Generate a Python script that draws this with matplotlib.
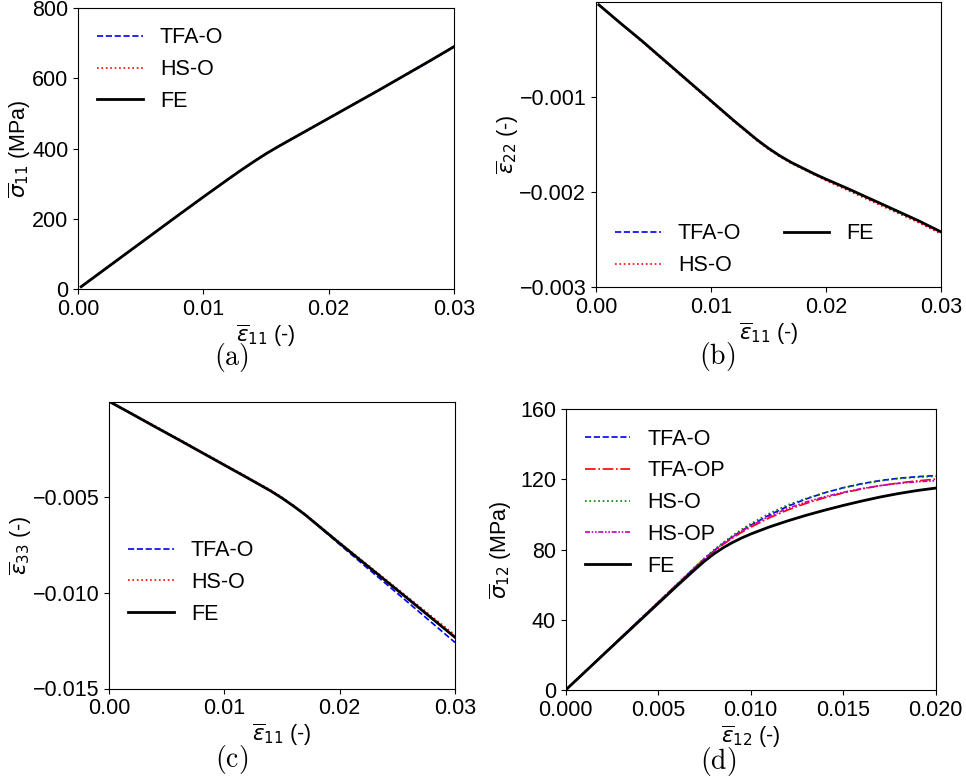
import numpy as np
import matplotlib
matplotlib.use("Agg")
import matplotlib.pyplot as plt
from matplotlib.ticker import FuncFormatter

plt.rcParams['font.family'] = ['Liberation Sans', 'DejaVu Sans']
plt.rcParams['font.size'] = 15.5
plt.rcParams['axes.labelsize'] = 15.5

# (a), (b), (c): uniaxial loading along 1
eps11 = [0.00025, 0.002, 0.004, 0.006, 0.008, 0.010, 0.012, 0.013, 0.014, 0.015, 0.016,
         0.017, 0.018, 0.019, 0.020, 0.022, 0.024, 0.026, 0.028, 0.030]

s11_fe = [6.5, 52.5, 105, 157.5, 210, 262, 313, 338, 362, 385, 406,
          426, 446, 466, 486, 526, 566, 607, 648, 690]
s11_tfa = [6.5, 52.5, 105, 157.5, 210, 262, 313, 338, 362, 385, 406,
           426, 446, 466, 486, 526, 566, 606, 647, 689]
s11_hs = [6.5, 52.5, 105, 157.5, 210, 262, 314, 339, 363, 386, 407,
          427, 447, 467, 487, 527, 567, 608, 649, 691]

e22_fe = [-0.00003, -0.00021, -0.00041, -0.00062, -0.00083, -0.00104, -0.00125, -0.00135,
          -0.00145, -0.00154, -0.00162, -0.00169, -0.00175, -0.00181, -0.001865,
          -0.00197, -0.00208, -0.00219, -0.00230, -0.00242]
e22_tfa = [-0.00003, -0.00021, -0.00041, -0.00062, -0.00083, -0.00104, -0.00125, -0.00135,
           -0.00145, -0.00154, -0.00162, -0.00169, -0.00175, -0.00181, -0.001865,
           -0.00197, -0.00208, -0.00219, -0.00230, -0.00242]
e22_hs = [-0.00003, -0.00021, -0.00042, -0.00063, -0.00084, -0.00105, -0.00126, -0.00136,
          -0.00146, -0.00155, -0.00163, -0.00170, -0.00176, -0.00182, -0.00188,
          -0.00199, -0.00210, -0.00221, -0.00232, -0.00244]

e33_fe = [-0.00005, -0.00063, -0.0013, -0.00196, -0.00263, -0.0033, -0.00397, -0.00431,
          -0.00465, -0.00503, -0.00545, -0.0059, -0.0064, -0.0069, -0.0074,
          -0.00838, -0.00936, -0.01034, -0.01133, -0.01232]
e33_tfa = [-0.00005, -0.00063, -0.0013, -0.00196, -0.00263, -0.0033, -0.00397, -0.00431,
           -0.00465, -0.00503, -0.00545, -0.0059, -0.00642, -0.00694, -0.00746,
           -0.00849, -0.00951, -0.01053, -0.01156, -0.01259]
e33_hs = [-0.00005, -0.0006, -0.00126, -0.00192, -0.00259, -0.00326, -0.00393, -0.00427,
          -0.00461, -0.00499, -0.00541, -0.00587, -0.00636, -0.00686, -0.00735,
          -0.00832, -0.00929, -0.01026, -0.01123, -0.0122]

# (d): shear loading
eps12 = [0, 0.002, 0.004, 0.006, 0.007, 0.0075, 0.008, 0.0085, 0.009, 0.0095, 0.010,
         0.011, 0.012, 0.013, 0.014, 0.015, 0.016, 0.017, 0.018, 0.019, 0.020]
s12_fe = [0, 19.8, 39.5, 59.2, 68.8, 73.4, 77.5, 81.0, 84.0, 86.6, 88.9,
          92.9, 96.4, 99.6, 102.5, 105.2, 107.7, 110.0, 112.0, 113.7, 115.1]
s12_tfa_o = [0, 20.0, 40.0, 60.0, 70.0, 74.8, 79.3, 83.4, 87.2, 90.7, 93.9,
             99.7, 104.7, 108.9, 112.4, 115.3, 117.6, 119.4, 120.7, 121.6, 122.2]
s12_tfa_op = [0, 20.0, 40.0, 60.0, 69.8, 74.5, 78.9, 82.9, 86.5, 89.8, 92.8,
              98.1, 102.6, 106.4, 109.6, 112.3, 114.6, 116.5, 118.0, 119.2, 120.2]
s12_hs_o = [0, 20.0, 40.1, 60.2, 70.3, 75.2, 79.8, 84.0, 87.9, 91.5, 94.8,
            100.6, 105.5, 109.2, 112.5, 115.2, 117.4, 119.2, 120.5, 121.3, 121.8]
s12_hs_op = [0, 20.0, 40.1, 60.1, 70.0, 74.8, 79.3, 83.4, 87.1, 90.5, 93.6,
             99.0, 103.5, 107.2, 110.2, 112.7, 114.8, 116.5, 117.8, 118.7, 119.3]

fig = plt.figure(figsize=(9.66, 7.78), dpi=100)
W, H = 966.0, 778.0

def add_ax(l, r, t, b):
    return fig.add_axes([l / W, 1 - b / H, (r - l) / W, (b - t) / H])

def fmt(spec):
    return FuncFormatter(lambda v, p: (spec % v).replace('-', '\u2212'))

ax1 = add_ax(78, 454, 8, 289)
ax2 = add_ax(596, 941, 2, 287)
ax3 = add_ax(109, 455, 402, 688.5)
ax4 = add_ax(565.7, 935.7, 409.3, 690)

lw = 1.2
leg_kw = dict(frameon=False, handlelength=2.1, labelspacing=0.5)

# (a)
ax1.plot(eps11, s11_tfa, 'b--', lw=lw, label='TFA-O')
ax1.plot(eps11, s11_hs, 'r:', lw=lw, label='HS-O')
ax1.plot(eps11, s11_fe, 'k-', lw=2, label='FE')
ax1.set_xlim(0, 0.03)
ax1.set_ylim(0, 800)
ax1.set_xticks([0, 0.01, 0.02, 0.03])
ax1.set_yticks([0, 200, 400, 600, 800])
ax1.xaxis.set_major_formatter(fmt('%.2f'))
ax1.set_xlabel(r'$\overline{\varepsilon}_{11}$ (-)', labelpad=2)
ax1.set_ylabel(r'$\overline{\sigma}_{11}$ (MPa)', labelpad=-1)
ax1.legend(loc='upper left', **leg_kw)

# (b)
ax2.plot(eps11, e22_tfa, 'b--', lw=lw, label='TFA-O')
ax2.plot(eps11, e22_hs, 'r:', lw=lw, label='HS-O')
ax2.plot(eps11, e22_fe, 'k-', lw=2, label='FE')
ax2.set_xlim(0, 0.03)
ax2.set_ylim(-0.003, 0)
ax2.set_xticks([0, 0.01, 0.02, 0.03])
ax2.set_yticks([-0.003, -0.002, -0.001])
ax2.xaxis.set_major_formatter(fmt('%.2f'))
ax2.yaxis.set_major_formatter(fmt('%.3f'))
ax2.set_xlabel(r'$\overline{\varepsilon}_{11}$ (-)', labelpad=2)
ax2.set_ylabel(r'$\overline{\varepsilon}_{22}$ (-)', labelpad=-1)
ax2.legend(loc='lower left', ncol=2, bbox_to_anchor=(0, -0.03), **leg_kw)

# (c)
ax3.plot(eps11, e33_tfa, 'b--', lw=lw, label='TFA-O')
ax3.plot(eps11, e33_hs, 'r:', lw=lw, label='HS-O')
ax3.plot(eps11, e33_fe, 'k-', lw=2, label='FE')
ax3.set_xlim(0, 0.03)
ax3.set_ylim(-0.015, 0)
ax3.set_xticks([0, 0.01, 0.02, 0.03])
ax3.set_yticks([-0.015, -0.010, -0.005])
ax3.xaxis.set_major_formatter(fmt('%.2f'))
ax3.yaxis.set_major_formatter(fmt('%.3f'))
ax3.set_xlabel(r'$\overline{\varepsilon}_{11}$ (-)', labelpad=2)
ax3.set_ylabel(r'$\overline{\varepsilon}_{33}$ (-)', labelpad=-1)
ax3.legend(loc='center left', bbox_to_anchor=(0, 0.37), **leg_kw)

# (d)
ax4.plot(eps12, s12_tfa_o, 'b--', lw=lw, label='TFA-O')
ax4.plot(eps12, s12_tfa_op, 'r-.', lw=lw, label='TFA-OP')
ax4.plot(eps12, s12_hs_o, 'g:', lw=lw, label='HS-O')
ax4.plot(eps12, s12_hs_op, color='m', ls=(0, (3, 1, 1, 1, 1, 1)), lw=lw, label='HS-OP')
ax4.plot(eps12, s12_fe, 'k-', lw=2, label='FE')
ax4.set_xlim(0, 0.02)
ax4.set_ylim(0, 160)
ax4.set_xticks([0, 0.005, 0.010, 0.015, 0.020])
ax4.set_yticks([0, 40, 80, 120, 160])
ax4.xaxis.set_major_formatter(fmt('%.3f'))
ax4.set_xlabel(r'$\overline{\varepsilon}_{12}$ (-)', labelpad=2)
ax4.set_ylabel(r'$\overline{\sigma}_{12}$ (MPa)')
ax4.legend(loc='upper left', **leg_kw)

# sub-figure captions
for lab, x, y in [('(a)', 231, 358), ('(b)', 717, 356), ('(c)', 232, 759), ('(d)', 718, 761)]:
    fig.text(x / W, 1 - y / H, r'$\mathrm{' + lab + '}$', math_fontfamily='cm',
             fontsize=20, ha='center', va='center')

fig.savefig('out.png', dpi=100)
